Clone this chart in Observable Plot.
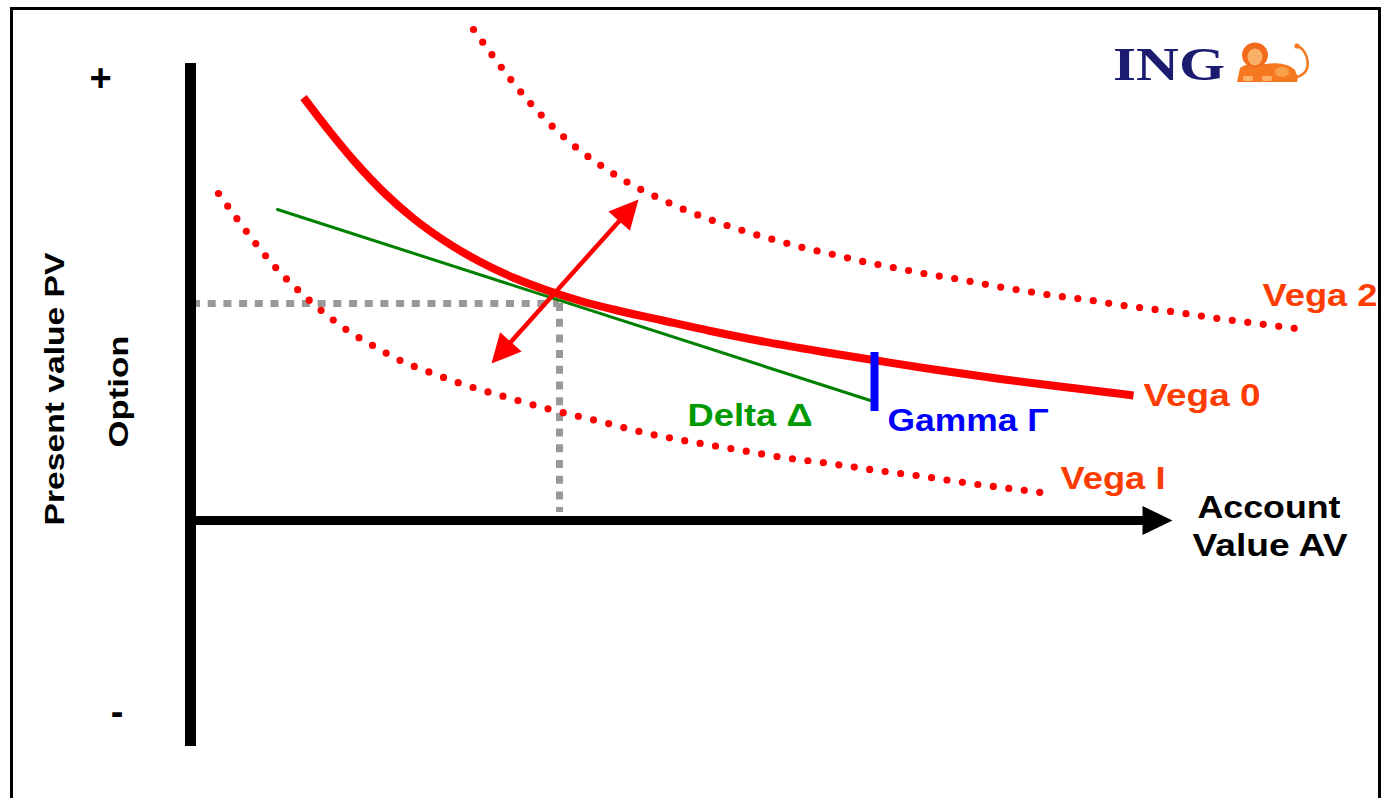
<!DOCTYPE html>
<html>
<head>
<meta charset="utf-8">
<script src="https://cdn.jsdelivr.net/npm/d3@7"></script>
<script src="https://cdn.jsdelivr.net/npm/@observablehq/plot@0.6"></script>
<style>
  html, body { margin: 0; padding: 0; background: #fff; }
  #wrap { position: relative; width: 1382px; height: 798px; overflow: hidden; background: #fff; }
  #frame { position: absolute; left: 10px; top: 7px; width: 1371px; height: 830px; box-sizing: border-box;
           border-left: 3px solid #000; border-top: 3px solid #000; border-right: 3px solid #000; }
  #chart { position: absolute; left: 0; top: 0; }
  #logo { position: absolute; left: 0; top: 0; pointer-events: none; }
</style>
</head>
<body>
<div id="wrap">
  <div id="frame"></div>
  <div id="chart"></div>
  <svg id="logo" width="1382" height="798">
    <text x="1113" y="80" font-family="'Liberation Serif','Times New Roman',serif" font-weight="bold" font-size="47"
          fill="#1b1b6f" textLength="112" lengthAdjust="spacingAndGlyphs">ING</text>
    <g>
      <path d="M1294,78 Q1311,74 1307,58 Q1304,48 1297,46" fill="none" stroke="#f47920" stroke-width="2.5"/>
      <circle cx="1297" cy="46" r="2.6" fill="#f47920"/>
      <path d="M1237,82 L1240,68 Q1250,61 1266,64 Q1286,61 1295,70 Q1299,78 1297,82 Z" fill="#f47920"/>
      <ellipse cx="1255" cy="55" rx="13" ry="12.5" fill="#f26a1b"/>
      <ellipse cx="1255" cy="57" rx="7.5" ry="8.5" fill="#fbb06a"/>
      <rect x="1243" y="76" width="10" height="5" rx="2" fill="#fbb06a"/>
      <rect x="1262" y="76" width="10" height="5" rx="2" fill="#fbb06a"/>
      <ellipse cx="1282" cy="72" rx="7" ry="5" fill="#f9a04b"/>
    </g>
  </svg>
</div>
<script>
// ---------- data (x = account value, y = present value of the option) ----------
const vega0 = [
  [11.3, 42.3], [14.0, 38.8], [16.5, 35.8], [19.5, 32.65], [22.3, 30.2], [25.5, 27.9],
  [29.0, 25.85], [32.5, 24.2], [35.7, 23.0], [39.0, 21.95], [42.3, 21.1], [47.0, 20.05],
  [52.0, 18.95], [57.0, 17.95], [63.0, 16.9], [68.3, 16.05], [74.0, 15.15], [81.0, 14.15],
  [89.0, 13.15], [94.3, 12.5]
];
const vega2 = [
  [28.3, 49.1], [30.2, 46.5], [32.1, 44.0], [34.1, 41.6], [36.3, 39.3], [38.7, 37.2],
  [41.2, 35.4], [43.9, 33.7], [46.7, 32.3], [49.6, 31.0], [52.5, 29.9], [55.5, 28.9],
  [58.6, 28.0], [61.6, 27.2], [64.7, 26.5], [67.7, 25.8], [70.8, 25.2], [73.9, 24.6],
  [77.0, 24.1], [80.1, 23.5], [83.2, 23.0], [86.3, 22.5], [89.5, 22.1], [92.6, 21.6],
  [95.7, 21.2], [98.8, 20.8], [102.0, 20.3], [105.1, 19.9], [108.2, 19.5], [111.3, 19.1]
];
const vega1 = [
  [2.8, 32.7], [4.7, 30.1], [6.6, 27.6], [8.6, 25.2], [10.8, 23.0], [13.2, 20.9],
  [15.7, 19.0], [18.4, 17.4], [21.2, 15.9], [24.0, 14.8], [27.0, 13.7], [31.0, 12.5],
  [36.0, 11.1], [41.0, 9.9], [45.3, 8.8], [49.9, 7.9], [54.6, 7.1], [59.3, 6.3],
  [63.9, 5.7], [68.7, 5.0], [73.3, 4.4], [78.0, 3.7], [82.7, 3.1], [86.2, 2.65]
];
const deltaTangent = [[8.7, 31.1], [68.0, 12.0]];
const gammaBar = [{x: 68.4, y1: 10.9, y2: 16.8}];
const guideH = [{y: 21.7, x1: 0.2, x2: 36.9}];
const guideV = [{x: 36.9, y1: 21.7, y2: 0.8}];
const vegaArrowTips = [[30.1, 15.7], [44.8, 32.1]];
const yAxisSpan = [{x: 0, y1: -22.6, y2: 45.7}];
const xAxisSpan = [{y: 0, x1: 0, tip: 98.2}];
const signLabels = [{text: "+", x: -9.0, y: 44.15}, {text: "-", x: -7.35, y: -19.25}];
const curveLabels = [
  {text: "Vega 2", x: 107.2, y: 21.5},
  {text: "Vega 0", x: 95.3, y: 11.5},
  {text: "Vega I", x: 87.0, y: 3.2}
];
const greekLabels = [
  {text: "Delta Δ", x: 49.7, y: 9.5, key: "delta"},
  {text: "Gamma Γ", x: 69.7, y: 9.0, key: "gamma"}
];
const xTitle = [{text: "Account", x: 107.85, y: 0.3}, {text: "Value AV", x: 107.95, y: -3.5}];
const yTitle = [{text: "Present value PV", x: -12.7, y: 13.15}, {text: "Option", x: -6.3, y: 12.9}];

// ---------- styles ----------
const FONT = "'Liberation Sans', Arial, Helvetica, sans-serif";
const textLengths = {
  "Vega 2": 115, "Vega 0": 117, "Vega I": 105, "Delta Δ": 125, "Gamma Γ": 161,
  "Account": 143, "Value AV": 155, "Present value PV": 273, "Option": 112
};
function headSymbol(len, wid) {
  return { draw(ctx) { ctx.moveTo(0, 0); ctx.lineTo(wid / 2, len); ctx.lineTo(-wid / 2, len); ctx.closePath(); } };
}

// derived geometry for the double arrow
const [lo, hi] = vegaArrowTips;
const adx = hi[0] - lo[0], ady = hi[1] - lo[1], alen = Math.hypot(adx, ady);
const ux = adx / alen, uy = ady / alen;
const arrowAngle = Math.atan2(adx, ady) * 180 / Math.PI;
const arrowShaft = [[lo[0] + ux * 2, lo[1] + uy * 2], [hi[0] - ux * 2, hi[1] - uy * 2]];
const arrowHeads = [{x: hi[0], y: hi[1], r: arrowAngle}, {x: lo[0], y: lo[1], r: arrowAngle + 180}];

const chart = Plot.plot({
  width: 1382, height: 798,
  marginTop: 0, marginRight: 0, marginBottom: 0, marginLeft: 0,
  x: {domain: [-19, 119.2], range: [0, 1382], axis: null},
  y: {domain: [-27.8, 52.0], range: [798, 0], axis: null},
  style: {background: "transparent", fontFamily: FONT},
  marks: [
    // grey dotted guides
    Plot.ruleY(guideH, {y: "y", x1: "x1", x2: "x2", stroke: "#999999", strokeWidth: 7, strokeDasharray: "8,7.7"}),
    Plot.ruleX(guideV, {x: "x", y1: "y1", y2: "y2", stroke: "#999999", strokeWidth: 7, strokeDasharray: "8,7.7"}),
    // axes
    Plot.ruleX(yAxisSpan, {x: "x", y1: "y1", y2: "y2", stroke: "#000", strokeWidth: 11}),
    Plot.ruleY(xAxisSpan, {y: "y", x1: "x1", x2: d => d.tip - 2.5, stroke: "#000", strokeWidth: 9}),
    Plot.dot(xAxisSpan, {x: "tip", y: "y", symbol: headSymbol(30, 29), rotate: 90, fill: "#000", stroke: "none"}),
    // dotted vega curves
    Plot.line(vega2, {x: d => d[0], y: d => d[1], curve: "monotone-x", stroke: "#ff0000", strokeWidth: 7.2,
      strokeDasharray: "0,15.6", strokeLinecap: "round"}),
    Plot.line(vega1, {x: d => d[0], y: d => d[1], curve: "monotone-x", stroke: "#ff0000", strokeWidth: 7.2,
      strokeDasharray: "0,15.6", strokeLinecap: "round"}),
    // main curve
    Plot.line(vega0, {x: d => d[0], y: d => d[1], curve: "monotone-x", stroke: "#ff0000", strokeWidth: 8,
      strokeLinecap: "butt"}),
    // delta tangent
    Plot.line(deltaTangent, {x: d => d[0], y: d => d[1], stroke: "#008000", strokeWidth: 3}),
    // gamma bar
    Plot.ruleX(gammaBar, {x: "x", y1: "y1", y2: "y2", stroke: "#0000ff", strokeWidth: 8}),
    // double arrow
    Plot.line(arrowShaft, {x: d => d[0], y: d => d[1], stroke: "#ff0000", strokeWidth: 4.5}),
    Plot.dot(arrowHeads, {x: "x", y: "y", rotate: "r", symbol: headSymbol(29, 29), fill: "#ff0000", stroke: "none"}),
    // labels
    Plot.text(signLabels, {x: "x", y: "y", text: "text", fontSize: 38, fontWeight: "bold", fill: "#000",
      textAnchor: "middle", lineAnchor: "middle", fontFamily: FONT}),
    Plot.text(curveLabels, {x: "x", y: "y", text: "text", fontSize: 31, fontWeight: "bold", fill: "#ff3c00",
      textAnchor: "start", lineAnchor: "bottom", fontFamily: FONT}),
    Plot.text(greekLabels, {x: "x", y: "y", text: "text", fontSize: 31, fontWeight: "bold",
      fill: d => d.key === "delta" ? "#009900" : "#0000ff", textAnchor: "start", lineAnchor: "bottom", fontFamily: FONT}),
    Plot.text(xTitle, {x: "x", y: "y", text: "text", fontSize: 31, fontWeight: "bold", fill: "#000",
      textAnchor: "middle", lineAnchor: "bottom", fontFamily: FONT}),
    Plot.text(yTitle, {x: "x", y: "y", text: "text", fontSize: 28, fontWeight: "bold", fill: "#000",
      textAnchor: "middle", lineAnchor: "bottom", rotate: -90, fontFamily: FONT})
  ]
});

d3.select(chart).selectAll("text").each(function () {
  const t = this.textContent;
  if (textLengths[t]) {
    this.setAttribute("textLength", textLengths[t]);
    this.setAttribute("lengthAdjust", "spacingAndGlyphs");
  }
});
document.getElementById("chart").appendChild(chart);
</script>
</body>
</html>
